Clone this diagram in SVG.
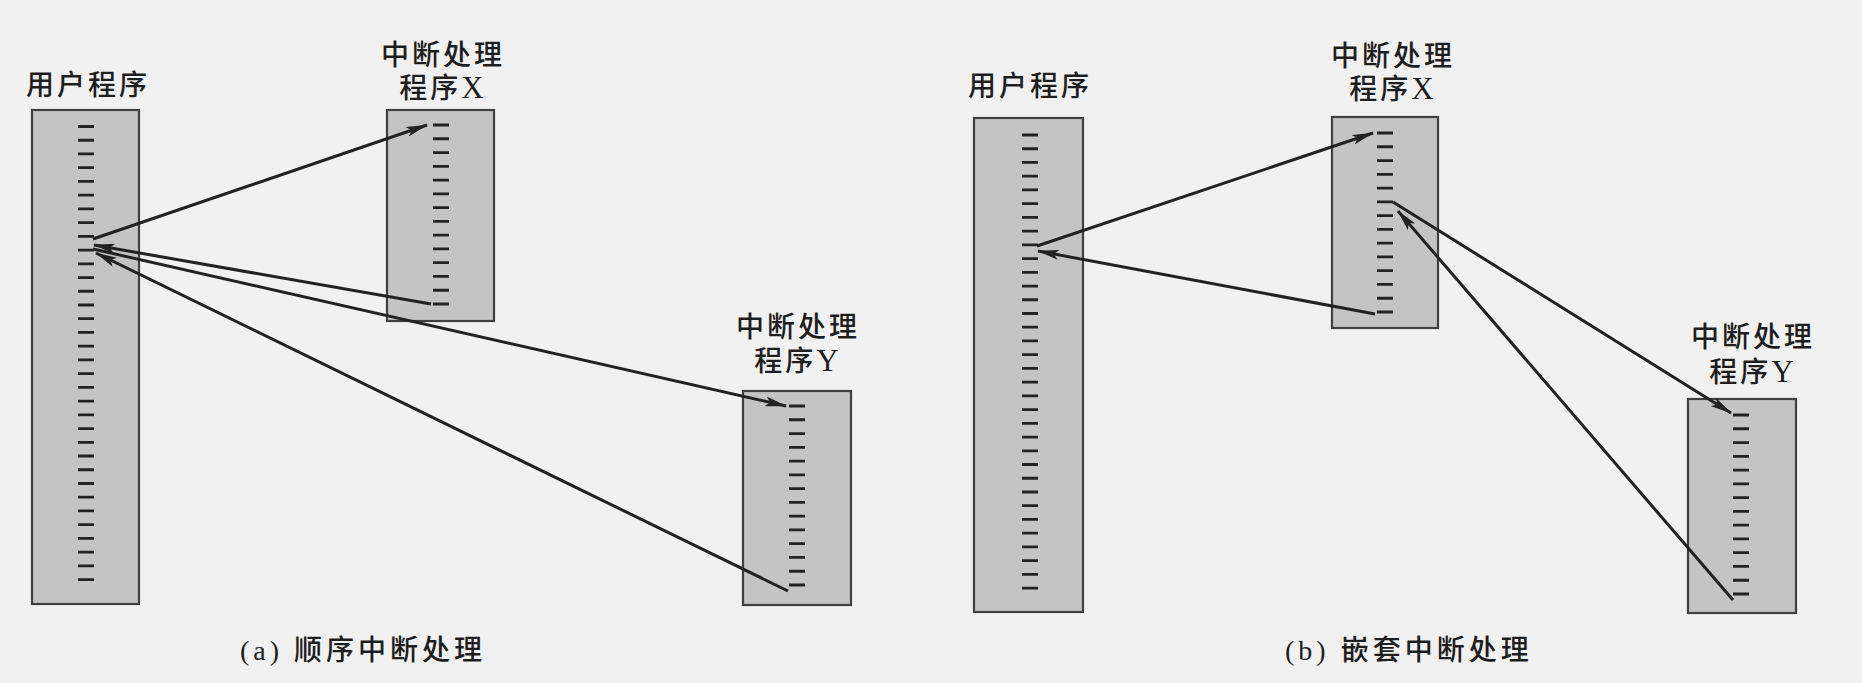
<svg xmlns="http://www.w3.org/2000/svg" width="1862" height="683" viewBox="0 0 1862 683">
<style>
.box{fill:#c4c4c4;stroke:#404040;stroke-width:2.2}
.tk{fill:none;stroke:#222;stroke-width:2.8}
.lbl{font-family:"Liberation Serif","Noto Sans CJK SC",serif;font-size:28px;font-weight:500;letter-spacing:3px;fill:#1e1e1e;text-anchor:middle}
.lat{font-size:31px}
.cap{font-family:"Liberation Serif","Noto Sans CJK SC",serif;font-size:28px;font-weight:500;letter-spacing:4px;fill:#1e1e1e}
.ln{fill:none;stroke:#222;stroke-width:3;marker-end:url(#ah)}
</style>
<defs>
<marker id="ah" viewBox="0 0 22 10" refX="21" refY="5" markerWidth="22" markerHeight="10" markerUnits="userSpaceOnUse" orient="auto">
<path d="M0,0 L22,5 L0,10 L5,5 z" fill="#222"/>
</marker>
<path id="t34" d="M0 0h16M0 13.73h16M0 27.46h16M0 41.19h16M0 54.92h16M0 68.65h16M0 82.38h16M0 96.11h16M0 109.84h16M0 123.57h16M0 137.3h16M0 151.03h16M0 164.76h16M0 178.49h16M0 192.22h16M0 205.95h16M0 219.68h16M0 233.41h16M0 247.14h16M0 260.87h16M0 274.6h16M0 288.33h16M0 302.06h16M0 315.79h16M0 329.52h16M0 343.25h16M0 356.98h16M0 370.71h16M0 384.44h16M0 398.17h16M0 411.9h16M0 425.63h16M0 439.36h16M0 453.09h16"/>
<path id="t14" d="M0 0h16M0 13.77h16M0 27.54h16M0 41.31h16M0 55.08h16M0 68.85h16M0 82.62h16M0 96.39h16M0 110.16h16M0 123.93h16M0 137.7h16M0 151.47h16M0 165.24h16M0 179.01h16"/>
</defs>
<rect x="0" y="0" width="1862" height="683" fill="#f1f1f1"/>

<g id="a-user">
<rect class="box" x="32" y="110" width="107" height="494"/>
<use href="#t34" class="tk" x="78" y="126.5"/>
<text class="lbl" x="88" y="95">用户程序</text>
</g>
<g id="a-x">
<rect class="box" x="387" y="110" width="107" height="211"/>
<use href="#t14" class="tk" x="433" y="125"/>
<text class="lbl" x="443" y="65">中断处理</text>
<text class="lbl" x="443" y="98">程序<tspan class="lat">X</tspan></text>
</g>
<g id="a-y">
<rect class="box" x="743" y="391" width="108" height="214"/>
<use href="#t14" class="tk" x="789" y="406"/>
<text class="lbl" x="798" y="337">中断处理</text>
<text class="lbl" x="798" y="371">程序<tspan class="lat">Y</tspan></text>
</g>

<g id="b-user">
<rect class="box" x="974" y="118" width="109" height="494"/>
<use href="#t34" class="tk" x="1022" y="135"/>
<text class="lbl" x="1030" y="96">用户程序</text>
</g>
<g id="b-x">
<rect class="box" x="1332" y="117" width="106" height="211"/>
<use href="#t14" class="tk" x="1377" y="133"/>
<text class="lbl" x="1393" y="66">中断处理</text>
<text class="lbl" x="1393" y="99">程序<tspan class="lat">X</tspan></text>
</g>
<g id="b-y">
<rect class="box" x="1688" y="399" width="108" height="214"/>
<use href="#t14" class="tk" x="1733" y="415"/>
<text class="lbl" x="1753" y="347">中断处理</text>
<text class="lbl" x="1753" y="382">程序<tspan class="lat">Y</tspan></text>
</g>

<g id="connectors">
<line class="ln" x1="93" y1="239" x2="427" y2="125"/>
<line class="ln" x1="431" y1="304" x2="94" y2="245"/>
<line class="ln" x1="93" y1="249" x2="786" y2="406"/>
<line class="ln" x1="788" y1="591" x2="96" y2="253"/>
<line class="ln" x1="1037" y1="246" x2="1373" y2="133"/>
<line class="ln" x1="1393" y1="202" x2="1731" y2="413"/>
<line class="ln" x1="1733" y1="600" x2="1398" y2="211"/>
<line class="ln" x1="1375" y1="314" x2="1038" y2="251"/>
</g>

<text class="cap" x="240" y="660">(a) 顺序中断处理</text>
<text class="cap" x="1285" y="660">(b) 嵌套中断处理</text>
</svg>
